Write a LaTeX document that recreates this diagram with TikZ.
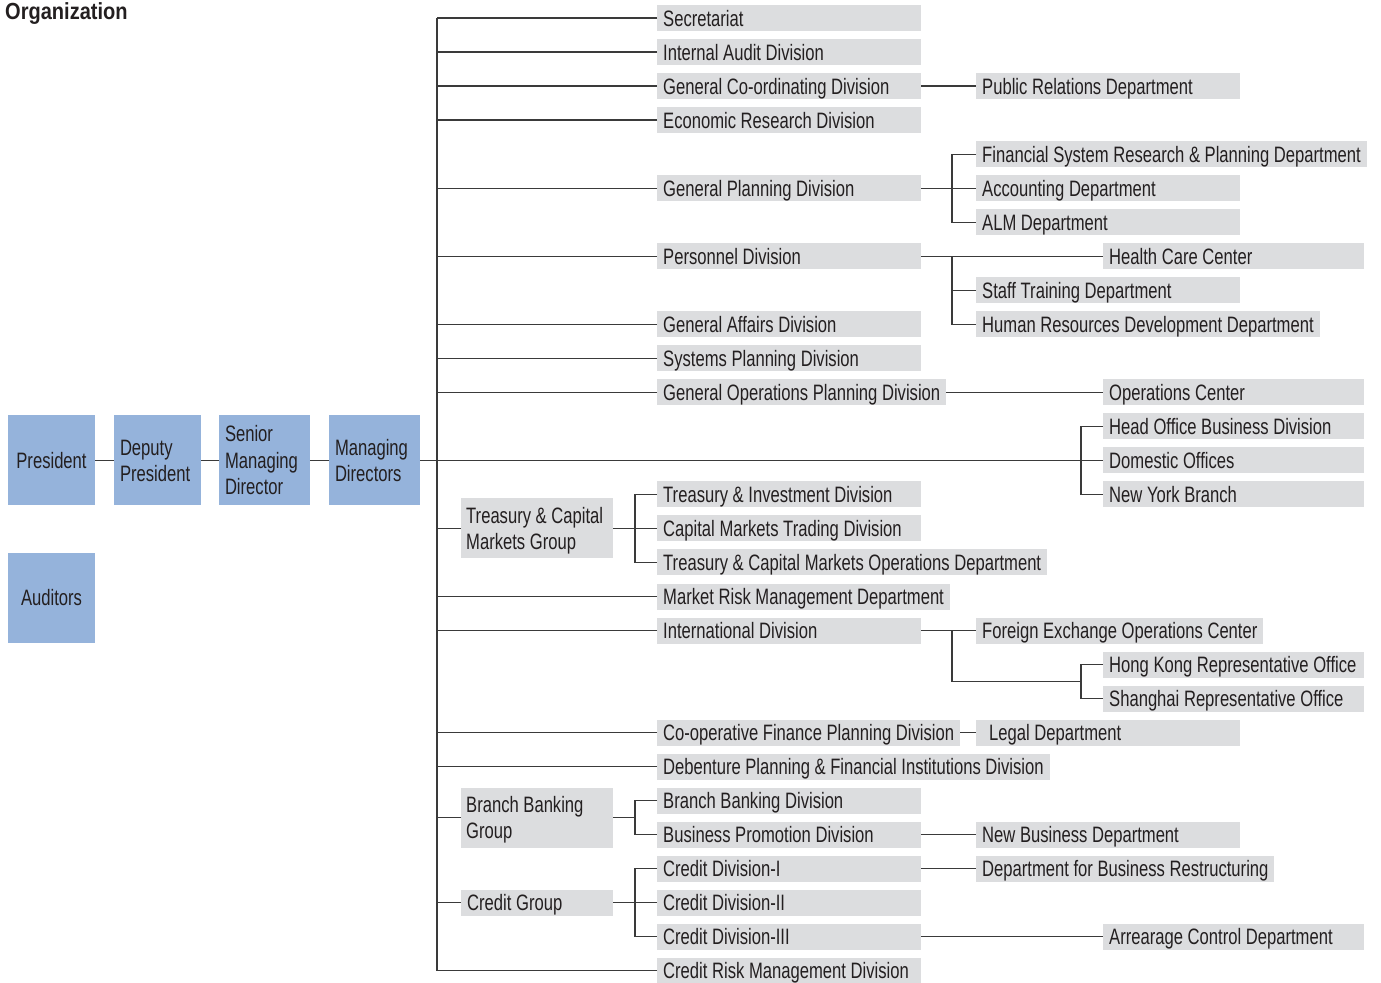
\documentclass[tikz,border=0pt]{standalone}
\usepackage{fontspec}
\setmainfont[FakeStretch=0.745]{Liberation Sans}
\newfontfamily\headfont[FakeStretch=0.86]{Liberation Sans}
\usetikzlibrary{calc}

\definecolor{boxgray}{RGB}{220,221,223}
\definecolor{boxblue}{RGB}{149,179,219}
\definecolor{inkc}{RGB}{35,31,32}
\definecolor{linec}{RGB}{58,58,58}

% a label at least #1 wide, set flush left; longer labels keep their own width
\newcommand\fitl[2]{\setbox0=\hbox{#2}%
  \ifdim\wd0<#1\relax\hbox to #1{\box0\hfil}\else\box0\fi}
\newcommand\ua[1]{\fitl{252pt}{#1}}
\newcommand\uc[1]{\fitl{249pt}{#1}}

\tikzset{
  unit/.style={fill=boxgray, inner xsep=6pt, inner ysep=5pt, text height=16pt,
    text depth=0pt, anchor=west},
  groupbox/.style={fill=boxgray, inner xsep=5pt, inner ysep=3pt, text width=142pt,
    text height=16pt, text depth=26.5pt, anchor=west, align=flush left,
    minimum height=60pt},
  exec/.style={fill=boxblue, inner xsep=6pt, inner ysep=3pt, minimum height=90pt,
    text height=16pt, text depth=0pt, align=flush left},
  link/.style={draw=linec, line width=1.2pt},
}

\begin{document}
\begin{tikzpicture}[x=1pt, y=-34.03pt, text=inkc,
  font=\fontsize{22.3}{26.5}\selectfont]
\useasboundingbox (0,-0.529) rectangle (1381,28.328);

\node[anchor=base west, inner sep=0pt,
  font=\headfont\bfseries\fontsize{23.3}{26}\selectfont] (title) at (5,0.03) {Organization};

% executive chain
\node[exec, text width=75pt, align=center] (pres) at (51.5,13) {President};
\node[exec, text width=75pt, text depth=26.5pt] (dep) at (157.5,13) {Deputy\\President};
\node[exec, text width=79pt, text depth=53pt] (smd) at (264.5,13) {Senior\\Managing\\Director};
\node[exec, text width=79pt, text depth=26.5pt] (md) at (374.5,13) {Managing\\Directors};
\node[exec, text width=75pt, align=center] (aud) at (51.5,17.03) {Auditors};

% divisions reporting to the managing directors
\node[unit] (sec) at (657,0) {\ua{Secretariat}};
\node[unit] (iad) at (657,1) {\ua{Internal Audit Division}};
\node[unit] (gcd) at (657,2) {\ua{General Co-ordinating Division}};
\node[unit] (erd) at (657,3) {\ua{Economic Research Division}};
\node[unit] (gpd) at (657,5) {\ua{General Planning Division}};
\node[unit] (pd) at (657,7) {\ua{Personnel Division}};
\node[unit] (gad) at (657,9) {\ua{General Affairs Division}};
\node[unit] (spd) at (657,10) {\ua{Systems Planning Division}};
\node[unit] (gopd) at (657,11) {\ua{General Operations Planning Division}};
\node[unit] (tid) at (657,14) {\ua{Treasury \& Investment Division}};
\node[unit] (cmtd) at (657,15) {\ua{Capital Markets Trading Division}};
\node[unit] (tcmo) at (657,16) {\ua{Treasury \& Capital Markets Operations Department}};
\node[unit] (mrmd) at (657,17) {\ua{Market Risk Management Department}};
\node[unit] (intd) at (657,18) {\ua{International Division}};
\node[unit] (cfpd) at (657,21) {\ua{Co-operative Finance Planning Division}};
\node[unit] (dpfi) at (657,22) {\ua{Debenture Planning \& Financial Institutions Division}};
\node[unit] (bbd) at (657,23) {\ua{Branch Banking Division}};
\node[unit] (bpd) at (657,24) {\ua{Business Promotion Division}};
\node[unit] (cd1) at (657,25) {\ua{Credit Division-I}};
\node[unit] (cd2) at (657,26) {\ua{Credit Division-II}};
\node[unit] (cd3) at (657,27) {\ua{Credit Division-III}};
\node[unit] (crmd) at (657,28) {\ua{Credit Risk Management Division}};

% groups
\node[groupbox] (tcmg) at (461,15) {Treasury \& Capital\\Markets Group};
\node[groupbox] (bbg) at (461,23.5) {Branch Banking\\Group};
\node[unit] (cg) at (461,26) {\fitl{140pt}{Credit Group}};

% departments
\node[unit] (prd) at (976,2) {\ua{Public Relations Department}};
\node[unit] (fsrp) at (976,4) {\ua{Financial System Research \& Planning Department}};
\node[unit] (acc) at (976,5) {\ua{Accounting Department}};
\node[unit] (alm) at (976,6) {\ua{ALM Department}};
\node[unit] (std) at (976,8) {\ua{Staff Training Department}};
\node[unit] (hrdd) at (976,9) {\ua{Human Resources Development Department}};
\node[unit] (feoc) at (976,18) {\ua{Foreign Exchange Operations Center}};
\node[unit] (legal) at (976,21) {\ua{\hspace*{7pt}Legal Department}};
\node[unit] (nbd) at (976,24) {\ua{New Business Department}};
\node[unit] (dbr) at (976,25) {\ua{Department for Business Restructuring}};

% centers, branches and offices
\node[unit] (hcc) at (1103,7) {\uc{Health Care Center}};
\node[unit] (opc) at (1103,11) {\uc{Operations Center}};
\node[unit] (hobd) at (1103,12) {\uc{Head Office Business Division}};
\node[unit] (dom) at (1103,13) {\uc{Domestic Offices}};
\node[unit] (nyb) at (1103,14) {\uc{New York Branch}};
\node[unit] (hkro) at (1103,19) {\uc{Hong Kong Representative Office}};
\node[unit] (shro) at (1103,20) {\uc{Shanghai Representative Office}};
\node[unit] (acd) at (1103,27) {\uc{Arrearage Control Department}};

% bracket columns
\coordinate (trunk) at (437,0);
\coordinate (gbx) at (635,0);
\coordinate (bbx) at (952,0);
\coordinate (hbx) at (1081,0);
\coordinate (repj) at ($(hkro.west)!.5!(shro.west)$);

% executive line and main trunk
\draw[link] (pres) -- (dep);
\draw[link] (dep) -- (smd);
\draw[link] (smd) -- (md);
\draw[link] (md.east) -- (dom.west);
\draw[link] (hobd.west) -- (hobd.west -| hbx) -- (nyb.west -| hbx) -- (nyb.west);
\draw[link] (sec.west -| trunk) -- (crmd.west -| trunk);
\foreach \n in {sec,iad,gcd,erd,gpd,pd,gad,spd,gopd,mrmd,intd,cfpd,dpfi,crmd,tcmg,bbg,cg}
  \draw[link] (\n.west) -- (\n.west -| trunk);

% groups to their divisions
\draw[link] (tcmg.east) -- (cmtd.west);
\draw[link] (tid.west) -- (tid.west -| gbx) -- (tcmo.west -| gbx) -- (tcmo.west);
\draw[link] (bbg.east) -- (bbg.east -| gbx);
\draw[link] (bbd.west) -- (bbd.west -| gbx) -- (bpd.west -| gbx) -- (bpd.west);
\draw[link] (cg.east) -- (cd2.west);
\draw[link] (cd1.west) -- (cd1.west -| gbx) -- (cd3.west -| gbx) -- (cd3.west);

% divisions to their departments
\draw[link] (gcd.east) -- (prd.west);
\draw[link] (gpd.east) -- (acc.west);
\draw[link] (fsrp.west) -- (fsrp.west -| bbx) -- (alm.west -| bbx) -- (alm.west);
\draw[link] (pd.east) -- (hcc.west);
\draw[link] (pd.east -| bbx) -- (hrdd.west -| bbx) -- (hrdd.west);
\draw[link] (std.west) -- (std.west -| bbx);
\draw[link] (gopd.east) -- (opc.west);
\draw[link] (intd.east) -- (feoc.west);
\draw[link] (intd.east -| bbx) -- (repj -| bbx) -- (repj -| hbx);
\draw[link] (hkro.west) -- (hkro.west -| hbx) -- (shro.west -| hbx) -- (shro.west);
\draw[link] (cfpd.east) -- (legal.west);
\draw[link] (bpd.east) -- (nbd.west);
\draw[link] (cd1.east) -- (dbr.west);
\draw[link] (cd3.east) -- (acd.west);
\end{tikzpicture}
\end{document}
